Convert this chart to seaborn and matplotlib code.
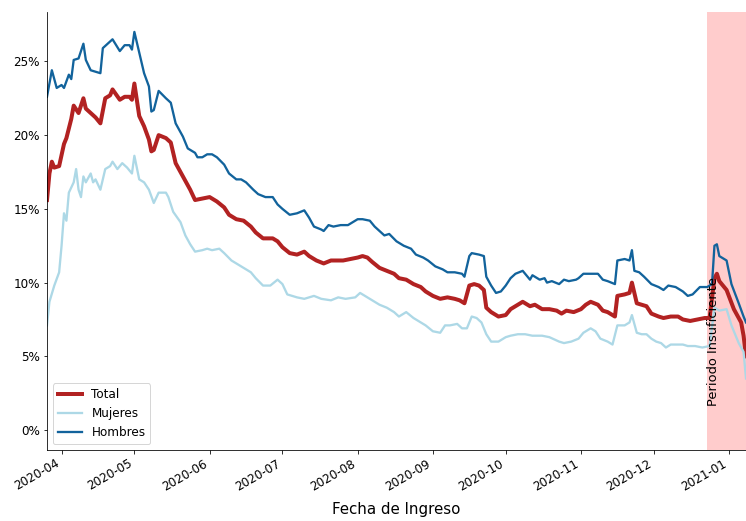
import numpy as np
import pandas as pd
import matplotlib
matplotlib.use("Agg")
import matplotlib.pyplot as plt
import matplotlib.dates as mdates
from matplotlib.ticker import FuncFormatter
import seaborn as sns

# porcentaje por fecha de ingreso
fechas_total = [
    "2020-03-26", "2020-03-27", "2020-03-28", "2020-03-29", "2020-03-31", "2020-04-02", "2020-04-03",
    "2020-04-05", "2020-04-06", "2020-04-08", "2020-04-10", "2020-04-11", "2020-04-13", "2020-04-15",
    "2020-04-17", "2020-04-19", "2020-04-21", "2020-04-22", "2020-04-25", "2020-04-27", "2020-04-29",
    "2020-04-30", "2020-05-01", "2020-05-03", "2020-05-05", "2020-05-07", "2020-05-08", "2020-05-09",
    "2020-05-11", "2020-05-14", "2020-05-16", "2020-05-18", "2020-05-21", "2020-05-24", "2020-05-26",
    "2020-05-29", "2020-06-01", "2020-06-04", "2020-06-07", "2020-06-09", "2020-06-12", "2020-06-15",
    "2020-06-18", "2020-06-20", "2020-06-23", "2020-06-27", "2020-06-29", "2020-07-01", "2020-07-04",
    "2020-07-07", "2020-07-10", "2020-07-12", "2020-07-15", "2020-07-18", "2020-07-21", "2020-07-23",
    "2020-07-26", "2020-07-29", "2020-08-01", "2020-08-03", "2020-08-05", "2020-08-07", "2020-08-10",
    "2020-08-13", "2020-08-16", "2020-08-18", "2020-08-21", "2020-08-24", "2020-08-27", "2020-08-29",
    "2020-09-01", "2020-09-04", "2020-09-07", "2020-09-10", "2020-09-12", "2020-09-14", "2020-09-16",
    "2020-09-18", "2020-09-20", "2020-09-22", "2020-09-23", "2020-09-25", "2020-09-28", "2020-10-01",
    "2020-10-03", "2020-10-06", "2020-10-08", "2020-10-11", "2020-10-13", "2020-10-16", "2020-10-19",
    "2020-10-22", "2020-10-24", "2020-10-26", "2020-10-29", "2020-11-01", "2020-11-03", "2020-11-05",
    "2020-11-08", "2020-11-10", "2020-11-12", "2020-11-15", "2020-11-16", "2020-11-19", "2020-11-21",
    "2020-11-22", "2020-11-24", "2020-11-26", "2020-11-28", "2020-11-30", "2020-12-03", "2020-12-05",
    "2020-12-08", "2020-12-11", "2020-12-13", "2020-12-16", "2020-12-19", "2020-12-22", "2020-12-24",
    "2020-12-26", "2020-12-27", "2020-12-28", "2020-12-31", "2021-01-03", "2021-01-06", "2021-01-07",
    "2021-01-08",
]
total = [
    15.6, 17.4, 18.2, 17.8, 17.9, 19.4, 19.8,
    21.1, 22.0, 21.5, 22.5, 21.8, 21.5, 21.2,
    20.8, 22.5, 22.7, 23.1, 22.4, 22.6, 22.6,
    22.4, 23.5, 21.3, 20.6, 19.7, 18.9, 19.0,
    20.0, 19.8, 19.5, 18.1, 17.2, 16.3, 15.6,
    15.7, 15.8, 15.5, 15.1, 14.6, 14.3, 14.2,
    13.8, 13.4, 13.0, 13.0, 12.8, 12.4, 12.0,
    11.9, 12.1, 11.8, 11.5, 11.3, 11.5, 11.5,
    11.5, 11.6, 11.7, 11.8, 11.7, 11.4, 11.0,
    10.8, 10.6, 10.3, 10.2, 9.9, 9.7, 9.4,
    9.1, 8.9, 9.0, 8.9, 8.8, 8.6, 9.8,
    9.9, 9.8, 9.5, 8.3, 8.0, 7.7, 7.8,
    8.2, 8.5, 8.7, 8.4, 8.5, 8.2, 8.2,
    8.1, 7.9, 8.1, 8.0, 8.2, 8.5, 8.7,
    8.5, 8.1, 8.0, 7.7, 9.1, 9.2, 9.3,
    10.0, 8.6, 8.5, 8.4, 7.9, 7.7, 7.6,
    7.7, 7.7, 7.5, 7.4, 7.5, 7.6, 7.6,
    10.3, 10.6, 10.1, 9.5, 8.2, 7.3, 6.4,
    5.0,
]

fechas_mujeres = [
    "2020-03-26", "2020-03-27", "2020-03-29", "2020-03-31", "2020-04-01", "2020-04-02", "2020-04-03",
    "2020-04-04", "2020-04-06", "2020-04-07", "2020-04-08", "2020-04-09", "2020-04-10", "2020-04-11",
    "2020-04-13", "2020-04-14", "2020-04-15", "2020-04-17", "2020-04-19", "2020-04-21", "2020-04-22",
    "2020-04-24", "2020-04-26", "2020-04-28", "2020-04-30", "2020-05-01", "2020-05-03", "2020-05-05",
    "2020-05-07", "2020-05-09", "2020-05-11", "2020-05-14", "2020-05-15", "2020-05-17", "2020-05-20",
    "2020-05-22", "2020-05-24", "2020-05-26", "2020-05-29", "2020-05-31", "2020-06-02", "2020-06-05",
    "2020-06-07", "2020-06-10", "2020-06-13", "2020-06-15", "2020-06-18", "2020-06-20", "2020-06-23",
    "2020-06-26", "2020-06-29", "2020-07-01", "2020-07-03", "2020-07-07", "2020-07-10", "2020-07-14",
    "2020-07-17", "2020-07-21", "2020-07-24", "2020-07-27", "2020-07-31", "2020-08-02", "2020-08-05",
    "2020-08-07", "2020-08-10", "2020-08-13", "2020-08-16", "2020-08-18", "2020-08-21", "2020-08-24",
    "2020-08-27", "2020-08-29", "2020-09-01", "2020-09-04", "2020-09-06", "2020-09-08", "2020-09-11",
    "2020-09-13", "2020-09-15", "2020-09-17", "2020-09-19", "2020-09-21", "2020-09-23", "2020-09-25",
    "2020-09-28", "2020-10-01", "2020-10-03", "2020-10-06", "2020-10-09", "2020-10-12", "2020-10-16",
    "2020-10-19", "2020-10-23", "2020-10-25", "2020-10-28", "2020-10-31", "2020-11-02", "2020-11-05",
    "2020-11-07", "2020-11-09", "2020-11-12", "2020-11-14", "2020-11-16", "2020-11-19", "2020-11-21",
    "2020-11-22", "2020-11-24", "2020-11-26", "2020-11-28", "2020-11-30", "2020-12-02", "2020-12-04",
    "2020-12-06", "2020-12-08", "2020-12-10", "2020-12-13", "2020-12-15", "2020-12-18", "2020-12-21",
    "2020-12-24", "2020-12-26", "2020-12-28", "2020-12-31", "2021-01-02", "2021-01-05", "2021-01-07",
    "2021-01-08",
]
mujeres = [
    7.1, 8.7, 9.8, 10.7, 12.5, 14.7, 14.2,
    16.1, 16.8, 17.7, 16.3, 15.8, 17.2, 16.8,
    17.4, 16.8, 17.0, 16.3, 17.7, 17.9, 18.2,
    17.7, 18.1, 17.8, 17.4, 18.6, 17.0, 16.8,
    16.3, 15.4, 16.1, 16.1, 15.8, 14.8, 14.1,
    13.2, 12.6, 12.1, 12.2, 12.3, 12.2, 12.3,
    12.0, 11.5, 11.2, 11.0, 10.7, 10.3, 9.8,
    9.8, 10.2, 9.9, 9.2, 9.0, 8.9, 9.1,
    8.9, 8.8, 9.0, 8.9, 9.0, 9.3, 9.0,
    8.8, 8.5, 8.3, 8.0, 7.7, 8.0, 7.6,
    7.3, 7.1, 6.7, 6.6, 7.1, 7.1, 7.2,
    6.9, 6.9, 7.7, 7.6, 7.3, 6.5, 6.0,
    6.0, 6.3, 6.4, 6.5, 6.5, 6.4, 6.4,
    6.3, 6.0, 5.9, 6.0, 6.2, 6.6, 6.9,
    6.7, 6.2, 6.0, 5.8, 7.1, 7.1, 7.3,
    7.8, 6.6, 6.5, 6.5, 6.2, 6.0, 5.9,
    5.6, 5.8, 5.8, 5.8, 5.7, 5.7, 5.6,
    5.7, 8.3, 8.1, 8.2, 7.1, 5.9, 5.3,
    3.5,
]

fechas_hombres = [
    "2020-03-26", "2020-03-28", "2020-03-30", "2020-04-01", "2020-04-02", "2020-04-04", "2020-04-05",
    "2020-04-06", "2020-04-08", "2020-04-10", "2020-04-11", "2020-04-13", "2020-04-15", "2020-04-17",
    "2020-04-18", "2020-04-20", "2020-04-22", "2020-04-25", "2020-04-27", "2020-04-29", "2020-04-30",
    "2020-05-01", "2020-05-03", "2020-05-05", "2020-05-07", "2020-05-08", "2020-05-09", "2020-05-11",
    "2020-05-14", "2020-05-16", "2020-05-18", "2020-05-21", "2020-05-23", "2020-05-26", "2020-05-27",
    "2020-05-29", "2020-05-31", "2020-06-02", "2020-06-04", "2020-06-07", "2020-06-09", "2020-06-12",
    "2020-06-14", "2020-06-16", "2020-06-19", "2020-06-21", "2020-06-24", "2020-06-27", "2020-06-29",
    "2020-07-01", "2020-07-04", "2020-07-07", "2020-07-10", "2020-07-12", "2020-07-14", "2020-07-17",
    "2020-07-18", "2020-07-20", "2020-07-22", "2020-07-25", "2020-07-28", "2020-07-30", "2020-08-01",
    "2020-08-03", "2020-08-06", "2020-08-08", "2020-08-10", "2020-08-12", "2020-08-14", "2020-08-17",
    "2020-08-20", "2020-08-23", "2020-08-25", "2020-08-28", "2020-08-30", "2020-09-02", "2020-09-05",
    "2020-09-07", "2020-09-10", "2020-09-13", "2020-09-14", "2020-09-16", "2020-09-17", "2020-09-20",
    "2020-09-22", "2020-09-23", "2020-09-25", "2020-09-27", "2020-09-29", "2020-10-01", "2020-10-03",
    "2020-10-05", "2020-10-08", "2020-10-11", "2020-10-12", "2020-10-15", "2020-10-17", "2020-10-18",
    "2020-10-20", "2020-10-23", "2020-10-25", "2020-10-27", "2020-10-30", "2020-10-31", "2020-11-02",
    "2020-11-05", "2020-11-08", "2020-11-10", "2020-11-12", "2020-11-15", "2020-11-16", "2020-11-19",
    "2020-11-21", "2020-11-22", "2020-11-23", "2020-11-25", "2020-11-27", "2020-11-30", "2020-12-03",
    "2020-12-05", "2020-12-07", "2020-12-10", "2020-12-13", "2020-12-15", "2020-12-17", "2020-12-20",
    "2020-12-23", "2020-12-25", "2020-12-26", "2020-12-27", "2020-12-28", "2020-12-31", "2021-01-02",
    "2021-01-05", "2021-01-07", "2021-01-08",
]
hombres = [
    22.6, 24.4, 23.2, 23.4, 23.2, 24.1, 23.8,
    25.1, 25.2, 26.2, 25.1, 24.4, 24.3, 24.2,
    25.9, 26.2, 26.5, 25.7, 26.1, 26.1, 25.8,
    27.0, 25.6, 24.2, 23.3, 21.6, 21.7, 23.0,
    22.5, 22.2, 20.8, 19.9, 19.1, 18.8, 18.5,
    18.5, 18.7, 18.7, 18.5, 18.0, 17.4, 17.0,
    17.0, 16.8, 16.3, 16.0, 15.8, 15.8, 15.3,
    15.0, 14.6, 14.7, 14.9, 14.4, 13.8, 13.6,
    13.5, 13.9, 13.8, 13.9, 13.9, 14.1, 14.3,
    14.3, 14.2, 13.8, 13.5, 13.2, 13.3, 12.8,
    12.5, 12.3, 11.9, 11.7, 11.5, 11.1, 10.9,
    10.7, 10.7, 10.6, 10.4, 11.8, 12.0, 11.9,
    11.8, 10.4, 9.8, 9.3, 9.4, 9.8, 10.3,
    10.6, 10.8, 10.2, 10.5, 10.2, 10.3, 10.0,
    10.1, 9.9, 10.2, 10.1, 10.2, 10.3, 10.6,
    10.6, 10.6, 10.2, 10.1, 9.9, 11.5, 11.6,
    11.5, 12.2, 10.8, 10.7, 10.4, 9.9, 9.7,
    9.5, 9.8, 9.7, 9.4, 9.1, 9.2, 9.7,
    9.7, 9.9, 12.5, 12.6, 11.8, 11.5, 9.9,
    8.6, 7.7, 7.3,
]

inicio_insuficiente = "2020-12-23"
limites_x = ("2020-03-26", "2021-01-08")

df_total = pd.DataFrame({"fecha": pd.to_datetime(fechas_total), "valor": total})
df_muj = pd.DataFrame({"fecha": pd.to_datetime(fechas_mujeres), "valor": mujeres})
df_hom = pd.DataFrame({"fecha": pd.to_datetime(fechas_hombres), "valor": hombres})

fig, ax = plt.subplots(figsize=(746 / 72, 521 / 72), dpi=72)
fig.subplots_adjust(left=47 / 746, right=1.0, top=1 - 12 / 521, bottom=1 - 450 / 521)

sns.lineplot(data=df_total, x="fecha", y="valor", color="firebrick", linewidth=4, label="Total", ax=ax)
sns.lineplot(data=df_muj, x="fecha", y="valor", color="lightblue", linewidth=2.3, label="Mujeres", ax=ax)
sns.lineplot(data=df_hom, x="fecha", y="valor", color="#12639c", linewidth=2.3, label="Hombres", ax=ax)

x0, x1 = pd.to_datetime(limites_x[0]), pd.to_datetime(limites_x[1])
ax.axvspan(pd.to_datetime(inicio_insuficiente), x1, color="red", alpha=0.2, linewidth=0)
ax.text(pd.to_datetime(inicio_insuficiente), 1.6, "Periodo Insuficiente", rotation=90,
        ha="left", va="bottom", fontsize=13)

ax.set_xlim(x0, x1)
ax.set_ylim(-1.35, 28.35)
ax.yaxis.set_major_formatter(FuncFormatter(lambda v, p: f"{v:.0f}%"))
ax.xaxis.set_major_locator(mdates.MonthLocator())
ax.xaxis.set_major_formatter(mdates.DateFormatter("%Y-%m"))
plt.setp(ax.get_xticklabels(), rotation=30, ha="right")
ax.tick_params(labelsize=12)
ax.set_xlabel("Fecha de Ingreso", fontsize=15, labelpad=9)
ax.set_ylabel("")
sns.despine(ax=ax)
ax.legend(loc="lower left", fontsize=12)

fig.savefig("out.png", dpi=72)
